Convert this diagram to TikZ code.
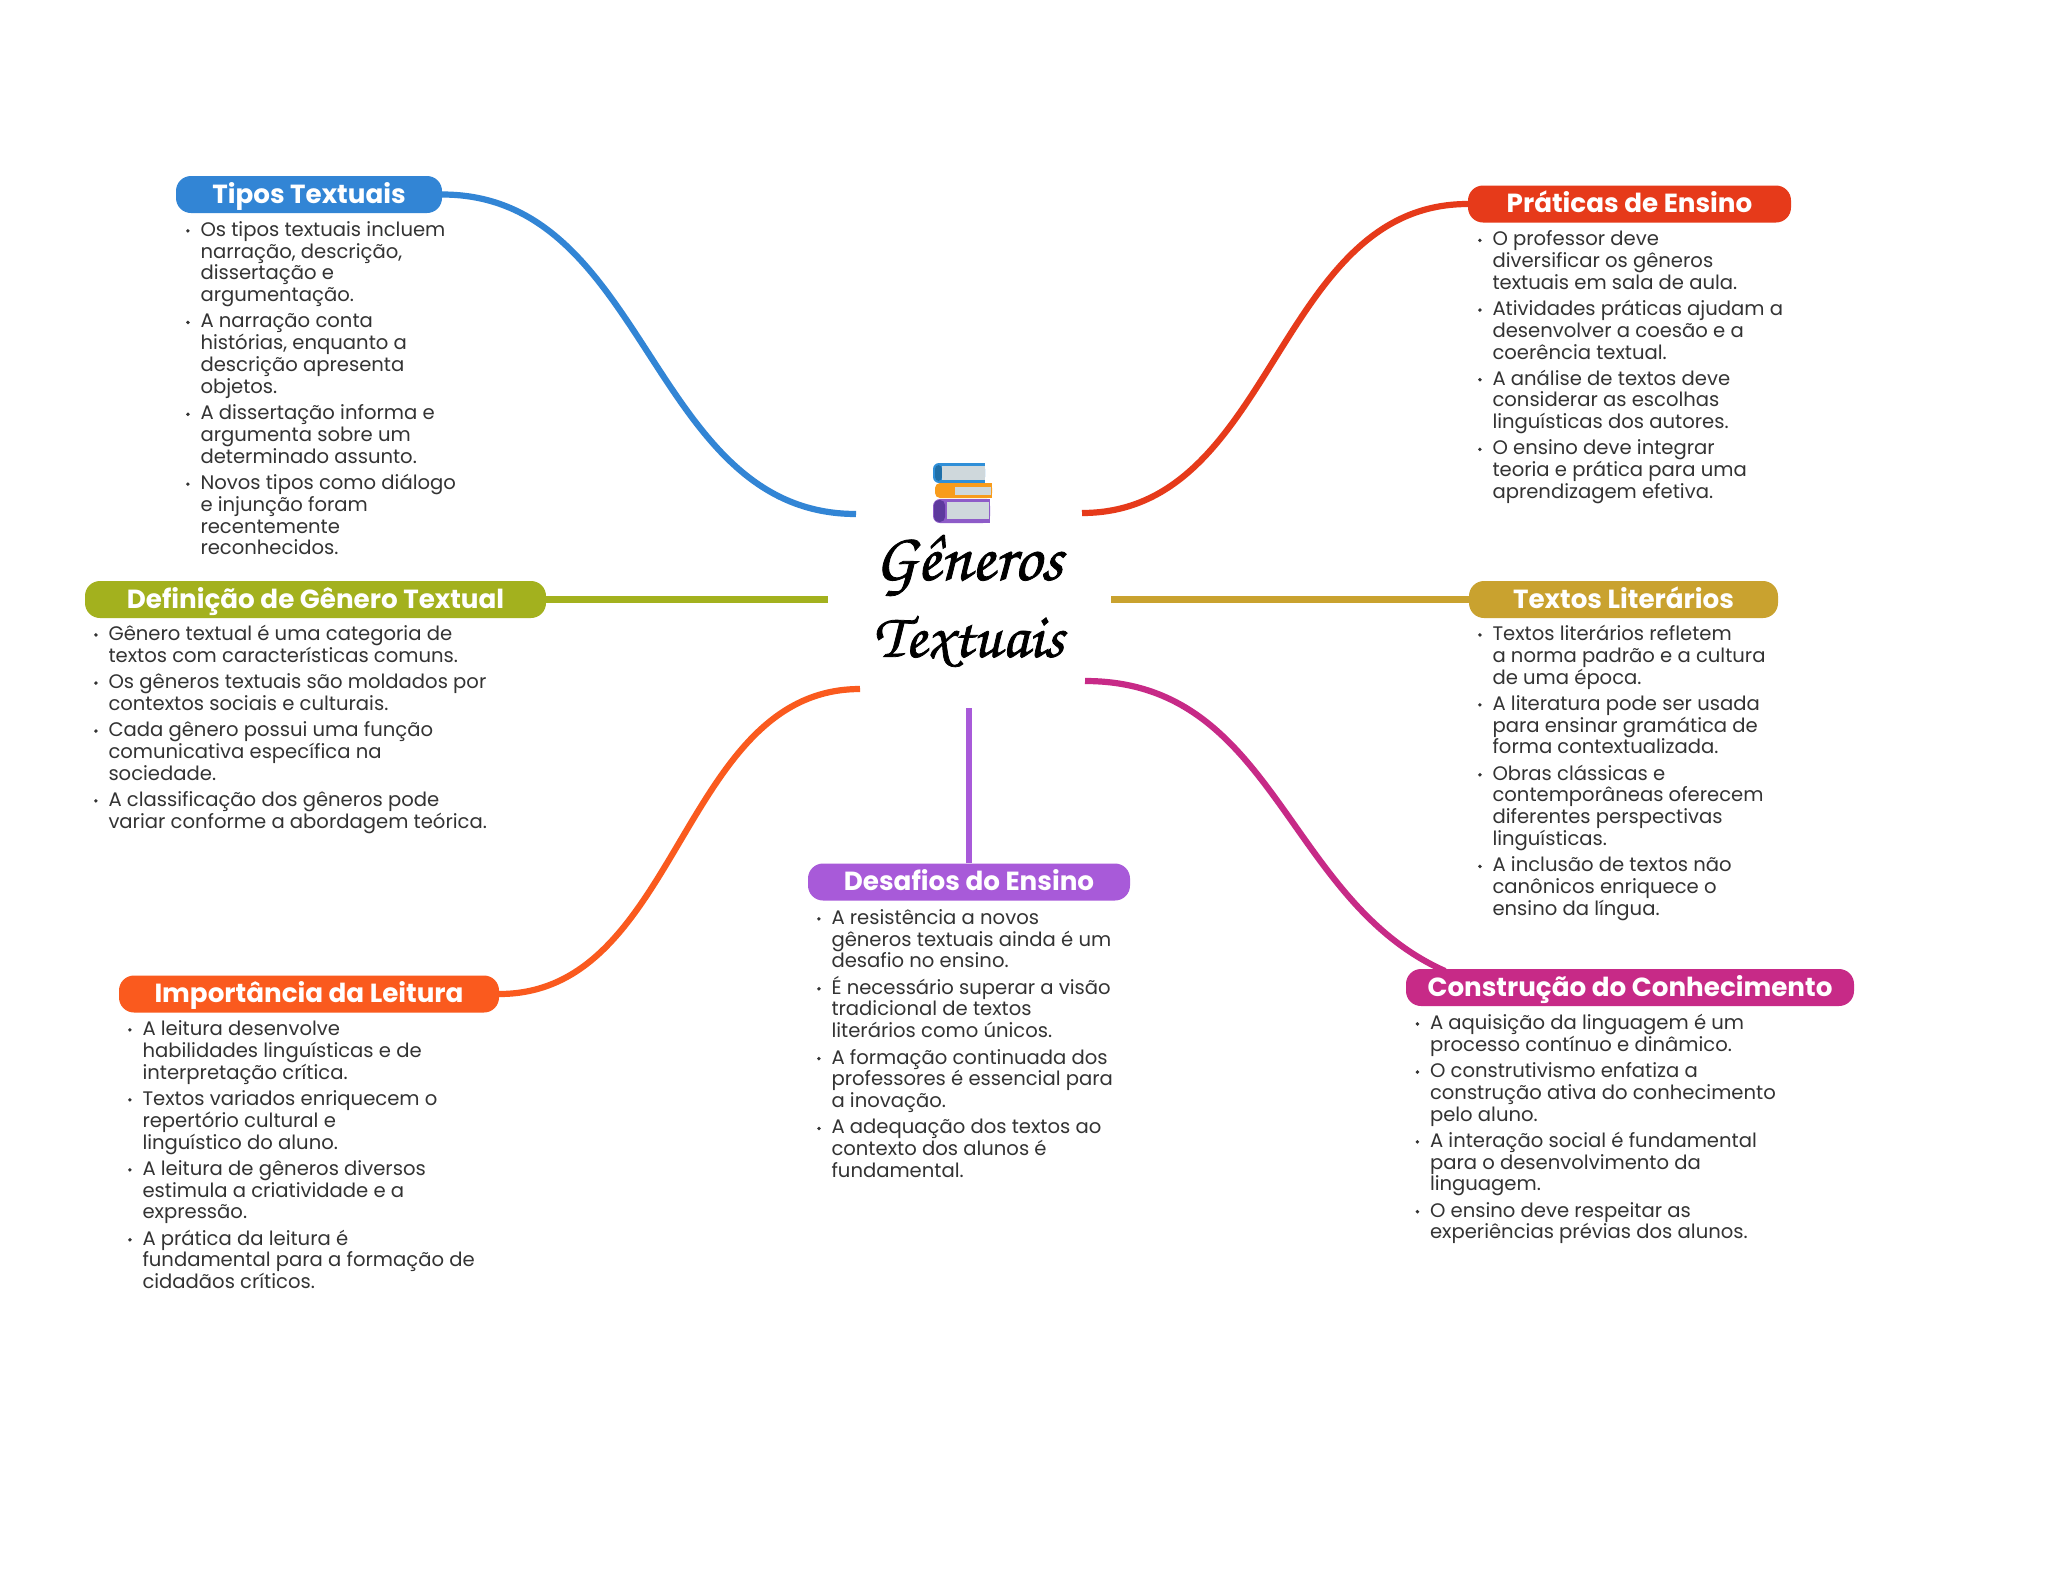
\documentclass[tikz,border=0pt]{standalone}
\usepackage{fontspec}
\setmainfont{Poppins}
\newfontfamily\scriptf[FakeBold=1.2]{TeX Gyre Chorus}
\definecolor{cblue}{HTML}{3285D5}
\definecolor{cred}{HTML}{E63A1A}
\definecolor{colive}{HTML}{A3B11E}
\definecolor{cgold}{HTML}{C9A22F}
\definecolor{corange}{HTML}{FA5A1E}
\definecolor{cpurple}{HTML}{A85AD9}
\definecolor{cmag}{HTML}{C72A87}
\definecolor{bodyc}{HTML}{333333}
\definecolor{bookpage}{HTML}{CFD8DC}
\definecolor{bookorange}{HTML}{F89C1C}
\definecolor{bookblue}{HTML}{2F8FD8}
\definecolor{bookbluedk}{HTML}{1F6FA8}
\definecolor{bookpurple}{HTML}{8E5CC8}
\definecolor{bookpurpledk}{HTML}{5E3A9E}
\newcommand{\bd}{\raisebox{0.5ex}{\tikz[baseline=0pt]\fill[bodyc] (0,0) circle (1.9pt);}}
\newenvironment{blk}{\fontsize{19.6}{21.8}\selectfont\color{bodyc}\begin{tabular}{@{}p{14.5pt}@{}l@{}}}{\end{tabular}}
\tikzset{
  pill/.style={rounded corners=15pt,inner sep=0pt,text=white,text height=20pt,text depth=2.6pt,minimum height=37pt,font=\fontsize{26.2}{30}\selectfont\bfseries},
  blocknode/.style={anchor=north west,inner sep=0pt,outer sep=0pt},
  conn/.style={line width=6.2pt,line cap=butt}
}
\pgfdeclarelayer{conns}
\pgfsetlayers{conns,main}
\begin{document}
\begin{tikzpicture}[x=1pt,y=-1pt]
\useasboundingbox (0,0) rectangle (2048,1569);
% hub anchors
\coordinate (hubNW) at (856,514);
\coordinate (hubNE) at (1082,513);
\coordinate (hubW) at (828,599.5);
\coordinate (hubE) at (1111,599.5);
\coordinate (hubSW) at (860,689);
\coordinate (hubSE) at (1085,681);
\coordinate (hubS) at (969,708);
\coordinate (magEnd) at (1445,971);
% pills
\node[pill,fill=cblue,minimum width=266pt] (tipos) at (309,194.5) {Tipos Textuais};
\node[pill,fill=cred,minimum width=323pt] (praticas) at (1629.5,204) {Práticas de Ensino};
\node[pill,fill=colive,minimum width=461pt] (defin) at (315.5,599.5) {Definição de Gênero Textual};
\node[pill,fill=cgold,minimum width=309pt] (textos) at (1623.5,599.5) {Textos Literários};
\node[pill,fill=corange,minimum width=380pt] (import) at (309,994) {Importância da Leitura};
\node[pill,fill=cpurple,minimum width=322pt] (desaf) at (969,882) {Desafios do Ensino};
\node[pill,fill=cmag,minimum width=448pt] (constr) at (1630,987.5) {Construção do Conhecimento};
% connectors, below the pills
\begin{pgfonlayer}{conns}
\fill[white] (0,0) rectangle (2048,1569);
\draw[conn,cblue] (tipos.east) .. controls (649,194.5) and (649,514) .. (hubNW);
\draw[conn,cred] (praticas.west) .. controls (1275,204) and (1275,513) .. (hubNE);
\draw[conn,corange] (import.east) .. controls (680,994) and (680,689) .. (hubSW);
\draw[conn,cmag] (hubSE) .. controls (1275,681) and (1285,900) .. (magEnd);
\draw[conn,colive] (defin.east) -- (hubW);
\draw[conn,cgold] (textos.west) -- (hubE);
\draw[conn,cpurple] (desaf.north) -- (hubS);
\end{pgfonlayer}
% hub
\node[inner sep=0pt,align=center,font=\scriptf\fontsize{68}{77}\selectfont] (hub) at (968.5,601) {Gêneros\\{\fontsize{63}{77}\selectfont Textuais}};
% book icon
\fill[bookblue,rounded corners=6pt] (933,463) -- (985,463) -- (985,483) -- (933,483) -- cycle;
\fill[bookblue] (960,463) rectangle (985,483);
\fill[bookbluedk,rounded corners=4pt] (935,465) -- (942,465) -- (942,481) -- (935,481) -- cycle;
\fill[bookpage] (942,466) rectangle (985,480);
\fill[bookorange,rounded corners=5pt] (935,483) -- (992,483) -- (992,498) -- (935,498) -- cycle;
\fill[bookorange] (970,483) rectangle (992,498);
\fill[bookpage] (955,487) rectangle (991,495);
\fill[bookpurple,rounded corners=7pt] (933,499) -- (990,499) -- (990,523) -- (933,523) -- cycle;
\fill[bookpurple] (970,499) rectangle (990,523);
\fill[bookpurpledk,rounded corners=5pt] (934,500) -- (945,500) -- (945,522) -- (934,522) -- cycle;
\fill[bookpage] (947,502) rectangle (989,519);
% text blocks
\node[blocknode] (tb1) at (186,221) {\begin{blk}
\bd & Os tipos textuais incluem\\
& narração, descrição,\\
& dissertação e\\
& argumentação.\\[4.4pt]
\bd & A narração conta\\
& histórias, enquanto a\\
& descrição apresenta\\
& objetos.\\[4.4pt]
\bd & A dissertação informa e\\
& argumenta sobre um\\
& determinado assunto.\\[4.4pt]
\bd & Novos tipos como diálogo\\
& e injunção foram\\
& recentemente\\
& reconhecidos.
\end{blk}};
\node[blocknode] (tb2) at (1478,230.5) {\begin{blk}
\bd & O professor deve\\
& diversificar os gêneros\\
& textuais em sala de aula.\\[4.2pt]
\bd & Atividades práticas ajudam a\\
& desenvolver a coesão e a\\
& coerência textual.\\[4.2pt]
\bd & A análise de textos deve\\
& considerar as escolhas\\
& linguísticas dos autores.\\[4.2pt]
\bd & O ensino deve integrar\\
& teoria e prática para uma\\
& aprendizagem efetiva.
\end{blk}};
\node[blocknode] (tb3) at (94,625) {\begin{blk}
\bd & Gênero textual é uma categoria de\\
& textos com características comuns.\\[4.4pt]
\bd & Os gêneros textuais são moldados por\\
& contextos sociais e culturais.\\[4.4pt]
\bd & Cada gênero possui uma função\\
& comunicativa específica na\\
& sociedade.\\[4.4pt]
\bd & A classificação dos gêneros pode\\
& variar conforme a abordagem teórica.
\end{blk}};
\node[blocknode] (tb4) at (1478,625) {\begin{blk}
\bd & Textos literários refletem\\
& a norma padrão e a cultura\\
& de uma época.\\[4.4pt]
\bd & A literatura pode ser usada\\
& para ensinar gramática de\\
& forma contextualizada.\\[4.4pt]
\bd & Obras clássicas e\\
& contemporâneas oferecem\\
& diferentes perspectivas\\
& linguísticas.\\[4.4pt]
\bd & A inclusão de textos não\\
& canônicos enriquece o\\
& ensino da língua.
\end{blk}};
\node[blocknode] (tb5) at (128,1020) {\begin{blk}
\bd & A leitura desenvolve\\
& habilidades linguísticas e de\\
& interpretação crítica.\\[4.4pt]
\bd & Textos variados enriquecem o\\
& repertório cultural e\\
& linguístico do aluno.\\[4.4pt]
\bd & A leitura de gêneros diversos\\
& estimula a criatividade e a\\
& expressão.\\[4.4pt]
\bd & A prática da leitura é\\
& fundamental para a formação de\\
& cidadãos críticos.
\end{blk}};
\node[blocknode] (tb6) at (817,909) {\begin{blk}
\bd & A resistência a novos\\
& gêneros textuais ainda é um\\
& desafio no ensino.\\[4.4pt]
\bd & \smash{É necessário superar a visão}\\
& tradicional de textos\\
& literários como únicos.\\[4.4pt]
\bd & A formação continuada dos\\
& professores é essencial para\\
& a inovação.\\[4.4pt]
\bd & A adequação dos textos ao\\
& contexto dos alunos é\\
& fundamental.
\end{blk}};
\node[blocknode] (tb7) at (1415.5,1014) {\begin{blk}
\bd & A aquisição da linguagem é um\\
& processo contínuo e dinâmico.\\[4.4pt]
\bd & O construtivismo enfatiza a\\
& construção ativa do conhecimento\\
& pelo aluno.\\[4.4pt]
\bd & A interação social é fundamental\\
& para o desenvolvimento da\\
& linguagem.\\[4.4pt]
\bd & O ensino deve respeitar as\\
& experiências prévias dos alunos.
\end{blk}};
\end{tikzpicture}
\end{document}
